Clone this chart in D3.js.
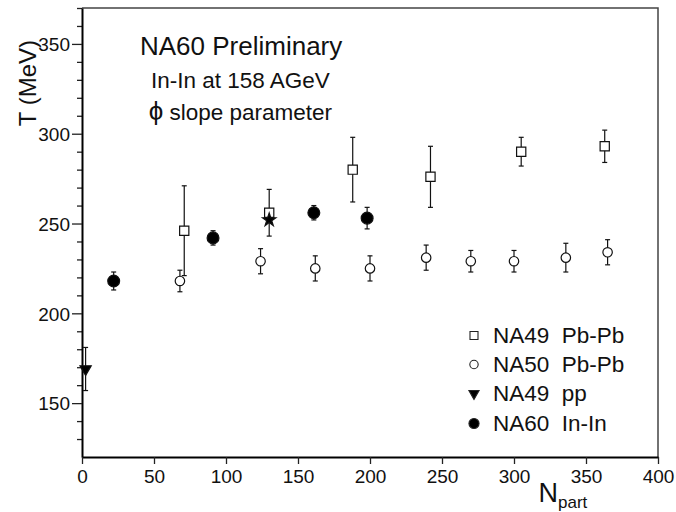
<!DOCTYPE html>
<html>
<head>
<meta charset="utf-8">
<script src="https://cdn.jsdelivr.net/npm/d3@7"></script>
<style>
  body { margin: 0; background: #fff; }
  text { font-family: "Liberation Sans", Arial, sans-serif; fill: #111; }
</style>
</head>
<body>
<div id="chart"></div>
<script>
// T slope parameter of phi vs N_part

var na49PbPbN = [71, 130, 188, 242, 305, 363];
var na49PbPbT = [246, 256, 280, 276, 290, 293];
var na49PbPbErr = [25, 13, 18, 17, 8, 9];

var na50PbPbN = [68, 124, 162, 200, 239, 270, 300, 336, 365];
var na50PbPbT = [218, 229, 225, 225, 231, 229, 229, 231, 234];
var na50PbPbErr = [6, 7, 7, 7, 7, 6, 6, 8, 7];

var na49ppN = [2.5];
var na49ppT = [169];
var na49ppErr = [12];

var na60InInN = [22, 91, 161, 198];
var na60InInT = [218, 242, 256, 253];
var na60InInErr = [5, 4, 4, 6];

var starN = [130];
var starT = [252];

var xTicks = [0, 50, 100, 150, 200, 250, 300, 350, 400];
var yMajor = [150, 200, 250, 300, 350];

var legendLabels = ["NA49  Pb-Pb", "NA50  Pb-Pb", "NA49  pp", "NA60  In-In"];

var svgWidth = 676, svgHeight = 512;
var margin = { top: 8, right: 18, bottom: 55, left: 82 };
var width = svgWidth - margin.left - margin.right;
var height = svgHeight - margin.top - margin.bottom;

var svg = d3.select("#chart")
    .append("svg")
    .attr("width", svgWidth)
    .attr("height", svgHeight)
    .append("g")
    .attr("transform", "translate(" + margin.left + "," + margin.top + ")");

var x = d3.scaleLinear().domain([0, 400]).range([0, width]);
var y = d3.scaleLinear().domain([120, 370]).range([height, 0]);

// frame top and right
svg.append("path")
    .attr("d", "M0,0H" + width + "V" + height)
    .attr("fill", "none")
    .attr("stroke", "#444")
    .attr("stroke-width", 1.5);

// y axis: minor ticks every 10
var yMinor = d3.range(130, 371, 10).filter(function(v) { return v % 50 !== 0; });
var yAxisMinor = d3.axisLeft(y).tickValues(yMinor).tickSize(5).tickFormat("");
svg.append("g").attr("class", "y-minor").call(yAxisMinor)
    .call(function(g) { g.select(".domain").remove(); });

var yAxis = d3.axisLeft(y).tickValues(yMajor).tickSize(10).tickPadding(2).tickSizeOuter(0);
var gy = svg.append("g").attr("class", "y-axis").call(yAxis);
gy.selectAll("text").attr("font-size", "19px").attr("dy", "0.36em");

var xAxis = d3.axisBottom(x).tickValues(xTicks).tickSize(7).tickPadding(6).tickSizeOuter(0);
var gx = svg.append("g")
    .attr("class", "x-axis")
    .attr("transform", "translate(0," + height + ")")
    .call(xAxis);
gx.selectAll("text").attr("font-size", "19px");

svg.selectAll(".domain").attr("stroke", "#000").attr("stroke-width", 2);
svg.selectAll(".tick line").attr("stroke", "#222").attr("stroke-width", 1.3);

// axis titles
svg.append("text")
    .attr("transform", "rotate(-90)")
    .attr("x", 0 - 32)
    .attr("y", 0 - margin.left + 36)
    .attr("text-anchor", "end")
    .attr("font-size", "24px")
    .text("T (MeV)");

var xt = svg.append("text")
    .attr("x", x(317))
    .attr("y", height + 45)
    .attr("font-size", "27px");
xt.append("tspan").text("N");
xt.append("tspan").attr("font-size", "17px").attr("dy", 6).text("part");

// header text
svg.append("text").attr("x", x(110.5)).attr("y", 47).attr("text-anchor", "middle")
    .attr("font-size", "26px").text("NA60 Preliminary");
svg.append("text").attr("x", x(110)).attr("y", 80).attr("text-anchor", "middle")
    .attr("font-size", "22.5px").text("In-In at 158 AGeV");
var phiLine = svg.append("text").attr("x", x(110)).attr("y", 112).attr("text-anchor", "middle")
    .attr("font-size", "22.5px");
phiLine.append("tspan").attr("font-size", "26px").text("\u03D5");
phiLine.append("tspan").text(" slope parameter");

// error bars
function errorBars(nArr, tArr, eArr) {
    var rows = nArr.map(function(n, i) { return { n: n, t: tArr[i], e: eArr[i] }; });
    var g = svg.append("g").attr("stroke", "#111").attr("stroke-width", 1.2);
    rows.forEach(function(d) {
        var cx = x(d.n);
        var y1 = y(d.t + d.e), y0 = y(d.t - d.e);
        g.append("line").attr("x1", cx).attr("x2", cx).attr("y1", y1).attr("y2", y0);
        g.append("line").attr("x1", cx - 2.5).attr("x2", cx + 2.5).attr("y1", y1).attr("y2", y1);
        g.append("line").attr("x1", cx - 2.5).attr("x2", cx + 2.5).attr("y1", y0).attr("y2", y0);
    });
}

errorBars(na49PbPbN, na49PbPbT, na49PbPbErr);
errorBars(na50PbPbN, na50PbPbT, na50PbPbErr);
errorBars(na49ppN, na49ppT, na49ppErr);
errorBars(na60InInN, na60InInT, na60InInErr);

var symSquare = d3.symbol().type(d3.symbolSquare).size(85);
var symCircle = d3.symbol().type(d3.symbolCircle).size(70);
var symTri = d3.symbol().type(d3.symbolTriangle).size(55);
var symDot = d3.symbol().type(d3.symbolCircle).size(110);
var symStar = d3.symbol().type(d3.symbolStar).size(55);

function markers(nArr, tArr, sym, fill, rot) {
    svg.append("g").selectAll("path")
        .data(nArr)
        .enter()
        .append("path")
        .attr("d", sym)
        .attr("transform", function(n, i) {
            return "translate(" + x(n) + "," + y(tArr[i]) + ")" + (rot ? " rotate(" + rot + ")" : "");
        })
        .attr("fill", fill)
        .attr("stroke", "#111")
        .attr("stroke-width", 1.2);
}

markers(na49PbPbN, na49PbPbT, symSquare, "#fff");
markers(na50PbPbN, na50PbPbT, symCircle, "#fff");
markers(na49ppN, na49ppT, symTri, "#000", 180);
markers(na60InInN, na60InInT, symDot, "#000");
markers(starN, starT, symStar, "#000");

// legend
var legSyms = [
    { sym: d3.symbol().type(d3.symbolSquare).size(64), fill: "#fff", rot: 0 },
    { sym: d3.symbol().type(d3.symbolCircle).size(55), fill: "#fff", rot: 0 },
    { sym: d3.symbol().type(d3.symbolTriangle).size(45), fill: "#000", rot: 180 },
    { sym: d3.symbol().type(d3.symbolCircle).size(80), fill: "#000", rot: 0 }
];
var legY = [335, 364, 393, 423];
legendLabels.forEach(function(lab, i) {
    svg.append("path")
        .attr("d", legSyms[i].sym)
        .attr("transform", "translate(" + 392 + "," + (legY[i] - 7.5) + ") rotate(" + legSyms[i].rot + ")")
        .attr("fill", legSyms[i].fill)
        .attr("stroke", "#222")
        .attr("stroke-width", 1.1);
    svg.append("text")
        .attr("x", 411)
        .attr("y", legY[i])
        .attr("font-size", "22.5px")
        .attr("xml:space", "preserve")
        .style("white-space", "pre")
        .text(lab);
});
</script>
</body>
</html>
